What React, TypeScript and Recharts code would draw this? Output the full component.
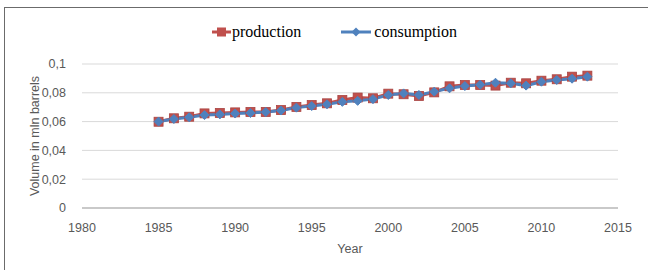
import React from 'react';
import { LineChart, Line, XAxis, YAxis, CartesianGrid, Legend, Label } from 'recharts';

const years = [1985, 1986, 1987, 1988, 1989, 1990, 1991, 1992, 1993, 1994, 1995, 1996, 1997, 1998, 1999, 2000, 2001, 2002, 2003, 2004, 2005, 2006, 2007, 2008, 2009, 2010, 2011, 2012, 2013];
const production = [0.0599, 0.0623, 0.0634, 0.0657, 0.066, 0.0664, 0.0667, 0.0667, 0.068, 0.0702, 0.0715, 0.0727, 0.075, 0.0767, 0.0762, 0.0794, 0.079, 0.0778, 0.0803, 0.0845, 0.0854, 0.0854, 0.085, 0.087, 0.0866, 0.0884, 0.0894, 0.0912, 0.0919];
const consumption = [0.06, 0.0618, 0.063, 0.0645, 0.065, 0.0656, 0.066, 0.0666, 0.0677, 0.0697, 0.0708, 0.072, 0.0737, 0.0744, 0.0756, 0.0785, 0.0796, 0.0785, 0.0808, 0.0831, 0.0847, 0.0856, 0.087, 0.0866, 0.085, 0.0877, 0.0889, 0.0898, 0.0912];
const xTicks = [1980, 1985, 1990, 1995, 2000, 2005, 2010, 2015];
const yTicks = [0, 0.02, 0.04, 0.06, 0.08, 0.1];

const data = years.map((y, i) => ({ year: y, production: production[i], consumption: consumption[i] }));

const RED = '#C0504D';
const BLUE = '#4F81BD';
const AXIS_FONT = '"Liberation Sans", Arial, sans-serif';

const SquareDot = (props: any) => {
  const { cx, cy } = props;
  if (cx == null || cy == null) return null;
  const s = 9;
  return <rect x={cx - s / 2} y={cy - s / 2} width={s} height={s} fill={RED} stroke="#A94442" strokeWidth={0.8} />;
};

const DiamondDot = (props: any) => {
  const { cx, cy } = props;
  if (cx == null || cy == null) return null;
  const r = 4.5;
  return <path d={`M${cx},${cy - r}L${cx + r},${cy}L${cx},${cy + r}L${cx - r},${cy}Z`} fill={BLUE} stroke={BLUE} />;
};

const LegendContent = () => (
  <div style={{ display: 'flex', alignItems: 'center', fontFamily: '"Liberation Serif", "Times New Roman", serif', fontSize: 16, color: '#000', lineHeight: '16px' }}>
    <svg width={19} height={12} style={{ marginRight: 1 }}>
      <line x1={0} y1={6} x2={19} y2={6} stroke={RED} strokeWidth={3} />
      <rect x={5} y={1.5} width={9} height={9} fill={RED} />
    </svg>
    <span>production</span>
    <svg width={30} height={12} style={{ marginLeft: 40, marginRight: 3 }}>
      <line x1={0} y1={6} x2={30} y2={6} stroke={BLUE} strokeWidth={3} />
      <path d="M15,1.5L19.5,6L15,10.5L10.5,6Z" fill={BLUE} />
    </svg>
    <span>consumption</span>
  </div>
);

const YLabel = (props: any) => {
  const vb = props.viewBox || {};
  const x = (vb.x ?? 0) + 36;
  const y = (vb.y ?? 0) + (vb.height ?? 0) / 2;
  return (
    <text x={x} y={y} transform={`rotate(-90 ${x} ${y})`} textAnchor="middle" dominantBaseline="middle" fill="#595959" fontSize={12.5} fontFamily={AXIS_FONT}>
      Volume in mln barrels
    </text>
  );
};

export default function App() {
  return (
    <div style={{ position: 'absolute', left: 0, top: 0, width: 648, height: 270, overflow: 'hidden', background: '#fff' }}>
      <div style={{ position: 'absolute', left: 4, top: 7, width: 700, height: 300, border: '1.5px solid #6b6b6b', boxSizing: 'border-box' }} />
      <LineChart width={648} height={270} data={data} margin={{ top: 48, right: 30, bottom: 12, left: 0 }}>
        <CartesianGrid horizontal={true} vertical={false} stroke="#d9d9d9" strokeWidth={1} />
        <XAxis
          dataKey="year"
          type="number"
          domain={[1980, 2015]}
          ticks={xTicks}
          height={50}
          tickLine={false}
          axisLine={{ stroke: '#a6a6a6', strokeWidth: 1.2 }}
          tick={{ fill: '#595959', fontSize: 12.5, fontFamily: AXIS_FONT }}
          tickMargin={9}
          interval={0}
        >
          <Label value="Year" position="insideBottom" offset={5} style={{ fill: '#595959', fontSize: 12.5, fontFamily: AXIS_FONT }} />
        </XAxis>
        <YAxis
          type="number"
          domain={[0, 0.1]}
          ticks={yTicks}
          width={82}
          axisLine={false}
          tickLine={false}
          tickMargin={10}
          tick={{ fill: '#595959', fontSize: 12.5, fontFamily: AXIS_FONT }}
          tickFormatter={(v: number) => String(v).replace('.', ',')}
          interval={0}
        >
          <Label content={<YLabel />} />
        </YAxis>
        <Legend verticalAlign="top" content={<LegendContent />} wrapperStyle={{ top: 24, left: 212, width: 300 }} />
        <Line type="linear" dataKey="production" stroke={RED} strokeWidth={3} dot={<SquareDot />} activeDot={false} isAnimationActive={false} />
        <Line type="linear" dataKey="consumption" stroke={BLUE} strokeWidth={3} dot={<DiamondDot />} activeDot={false} isAnimationActive={false} />
      </LineChart>
    </div>
  );
}
